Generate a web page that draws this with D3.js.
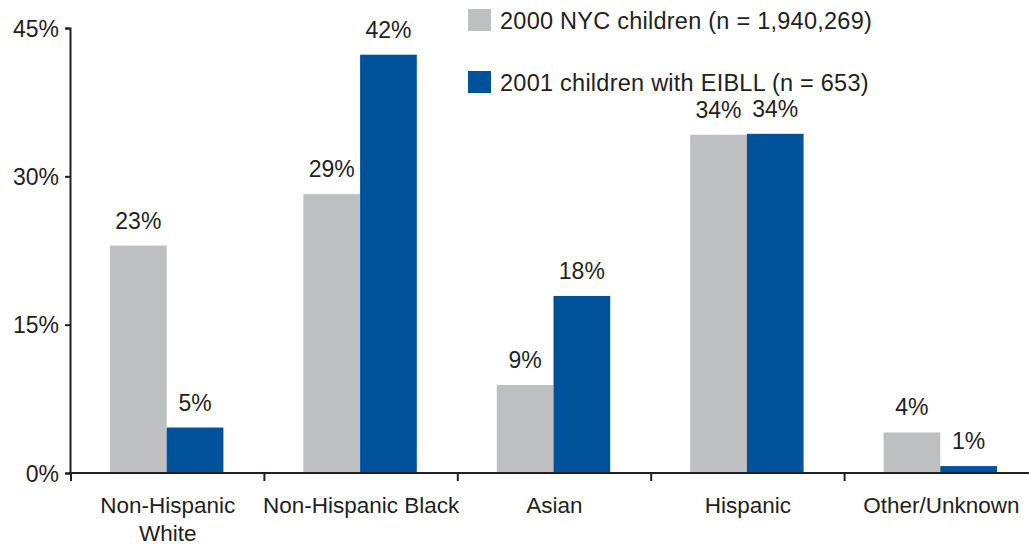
<!DOCTYPE html>
<html>
<head>
<meta charset="utf-8">
<script src="https://cdn.jsdelivr.net/npm/d3@7"></script>
<style>
  html, body { margin: 0; padding: 0; background: #fff; }
  svg { display: block; }
  text { font-family: "Liberation Sans", Arial, Helvetica, sans-serif; fill: #231f20; }
</style>
</head>
<body>
<svg id="chart" width="1029" height="544"></svg>
<script>
const categories = ["Non-Hispanic White", "Non-Hispanic Black", "Asian", "Hispanic", "Other/Unknown"];
const categoryLines = [["Non-Hispanic", "White"], ["Non-Hispanic Black"], ["Asian"], ["Hispanic"], ["Other/Unknown"]];
const seriesNames = ["2000 NYC children (n = 1,940,269)", "2001 children with EIBLL (n = 653)"];
const nycChildren2000 = [23.0, 28.2, 8.9, 34.2, 4.1];
const eibllChildren2001 = [4.6, 42.3, 17.9, 34.3, 0.7];
const valueLabels2000 = ["23%", "29%", "9%", "34%", "4%"];
const valueLabels2001 = ["5%", "42%", "18%", "34%", "1%"];
const yTicks = [0, 15, 30, 45];
const colors = ["#bebfc1", "#00529b"];

const series = [nycChildren2000, eibllChildren2001];
const labels = [valueLabels2000, valueLabels2001];

const svg = d3.select("#chart");
const fsVal = 23, fsTick = 23, fsCat = 22.5, fsLeg = 23.5;

const x0 = d3.scaleBand().domain(categories).range([70, 1037]).padding(0);
const x1 = d3.scaleBand().domain([0, 1]).range([40, x0.bandwidth() - 40]).padding(0);
const y = d3.scaleLinear().domain([0, 45]).range([473, 28]);

// bars
categories.forEach((c, i) => {
  const g = svg.append("g").attr("transform", `translate(${x0(c)},0)`);
  [0, 1].forEach(s => {
    g.append("rect")
      .attr("x", x1(s))
      .attr("y", y(series[s][i]))
      .attr("width", x1.bandwidth())
      .attr("height", y(0) - y(series[s][i]))
      .attr("fill", colors[s]);
    g.append("text")
      .attr("x", x1(s) + x1.bandwidth() / 2)
      .attr("y", y(series[s][i]) - 17)
      .attr("text-anchor", "middle")
      .style("font-size", fsVal + "px")
      .text(labels[s][i]);
  });
});

// y axis
const yAxis = svg.append("g").attr("transform", "translate(70,0)")
  .call(d3.axisLeft(y).tickValues(yTicks).tickSize(5).tickPadding(6).tickFormat(d => d + "%"));
yAxis.select(".domain").attr("stroke", "#231f20").attr("stroke-width", 2);
yAxis.selectAll(".tick line").attr("stroke", "#231f20").attr("stroke-width", 2);
yAxis.selectAll(".tick text").style("font-size", fsTick + "px").attr("fill", "#231f20").attr("font-family", null).attr("dy", "0.35em");

// x axis
const xAxis = svg.append("g").attr("transform", `translate(0,${y(0)})`)
  .call(d3.axisBottom(x0).tickSize(0).tickFormat(""));
xAxis.select(".domain").attr("stroke", "#231f20").attr("stroke-width", 2).attr("d", `M69,0H1037`);
xAxis.selectAll(".tick").remove();
xAxis.selectAll(".btick").data(categories).enter().append("line")
  .attr("x1", d => x0(d) + 1).attr("x2", d => x0(d) + 1)
  .attr("y1", 0).attr("y2", 8)
  .attr("stroke", "#231f20").attr("stroke-width", 2);
categories.forEach((c, i) => {
  const t = xAxis.append("text")
    .attr("text-anchor", "middle")
    .attr("x", x0(c) + x0.bandwidth() / 2 + 1)
    .attr("y", 40)
    .style("font-size", fsCat + "px");
  categoryLines[i].forEach((ln, k) => {
    t.append("tspan").attr("x", x0(c) + x0.bandwidth() / 2 + 1).attr("dy", k === 0 ? 0 : 27.5).text(ln);
  });
});

// legend
const legend = svg.append("g");
seriesNames.forEach((name, s) => {
  const ly = [9, 71][s];
  legend.append("rect").attr("x", 468).attr("y", ly).attr("width", 23).attr("height", 22).attr("fill", colors[s]);
  legend.append("text").attr("x", 500).attr("y", ly + 20)
    .style("font-size", fsLeg + "px").style("letter-spacing", "0.25px").text(name);
});
</script>
</body>
</html>
